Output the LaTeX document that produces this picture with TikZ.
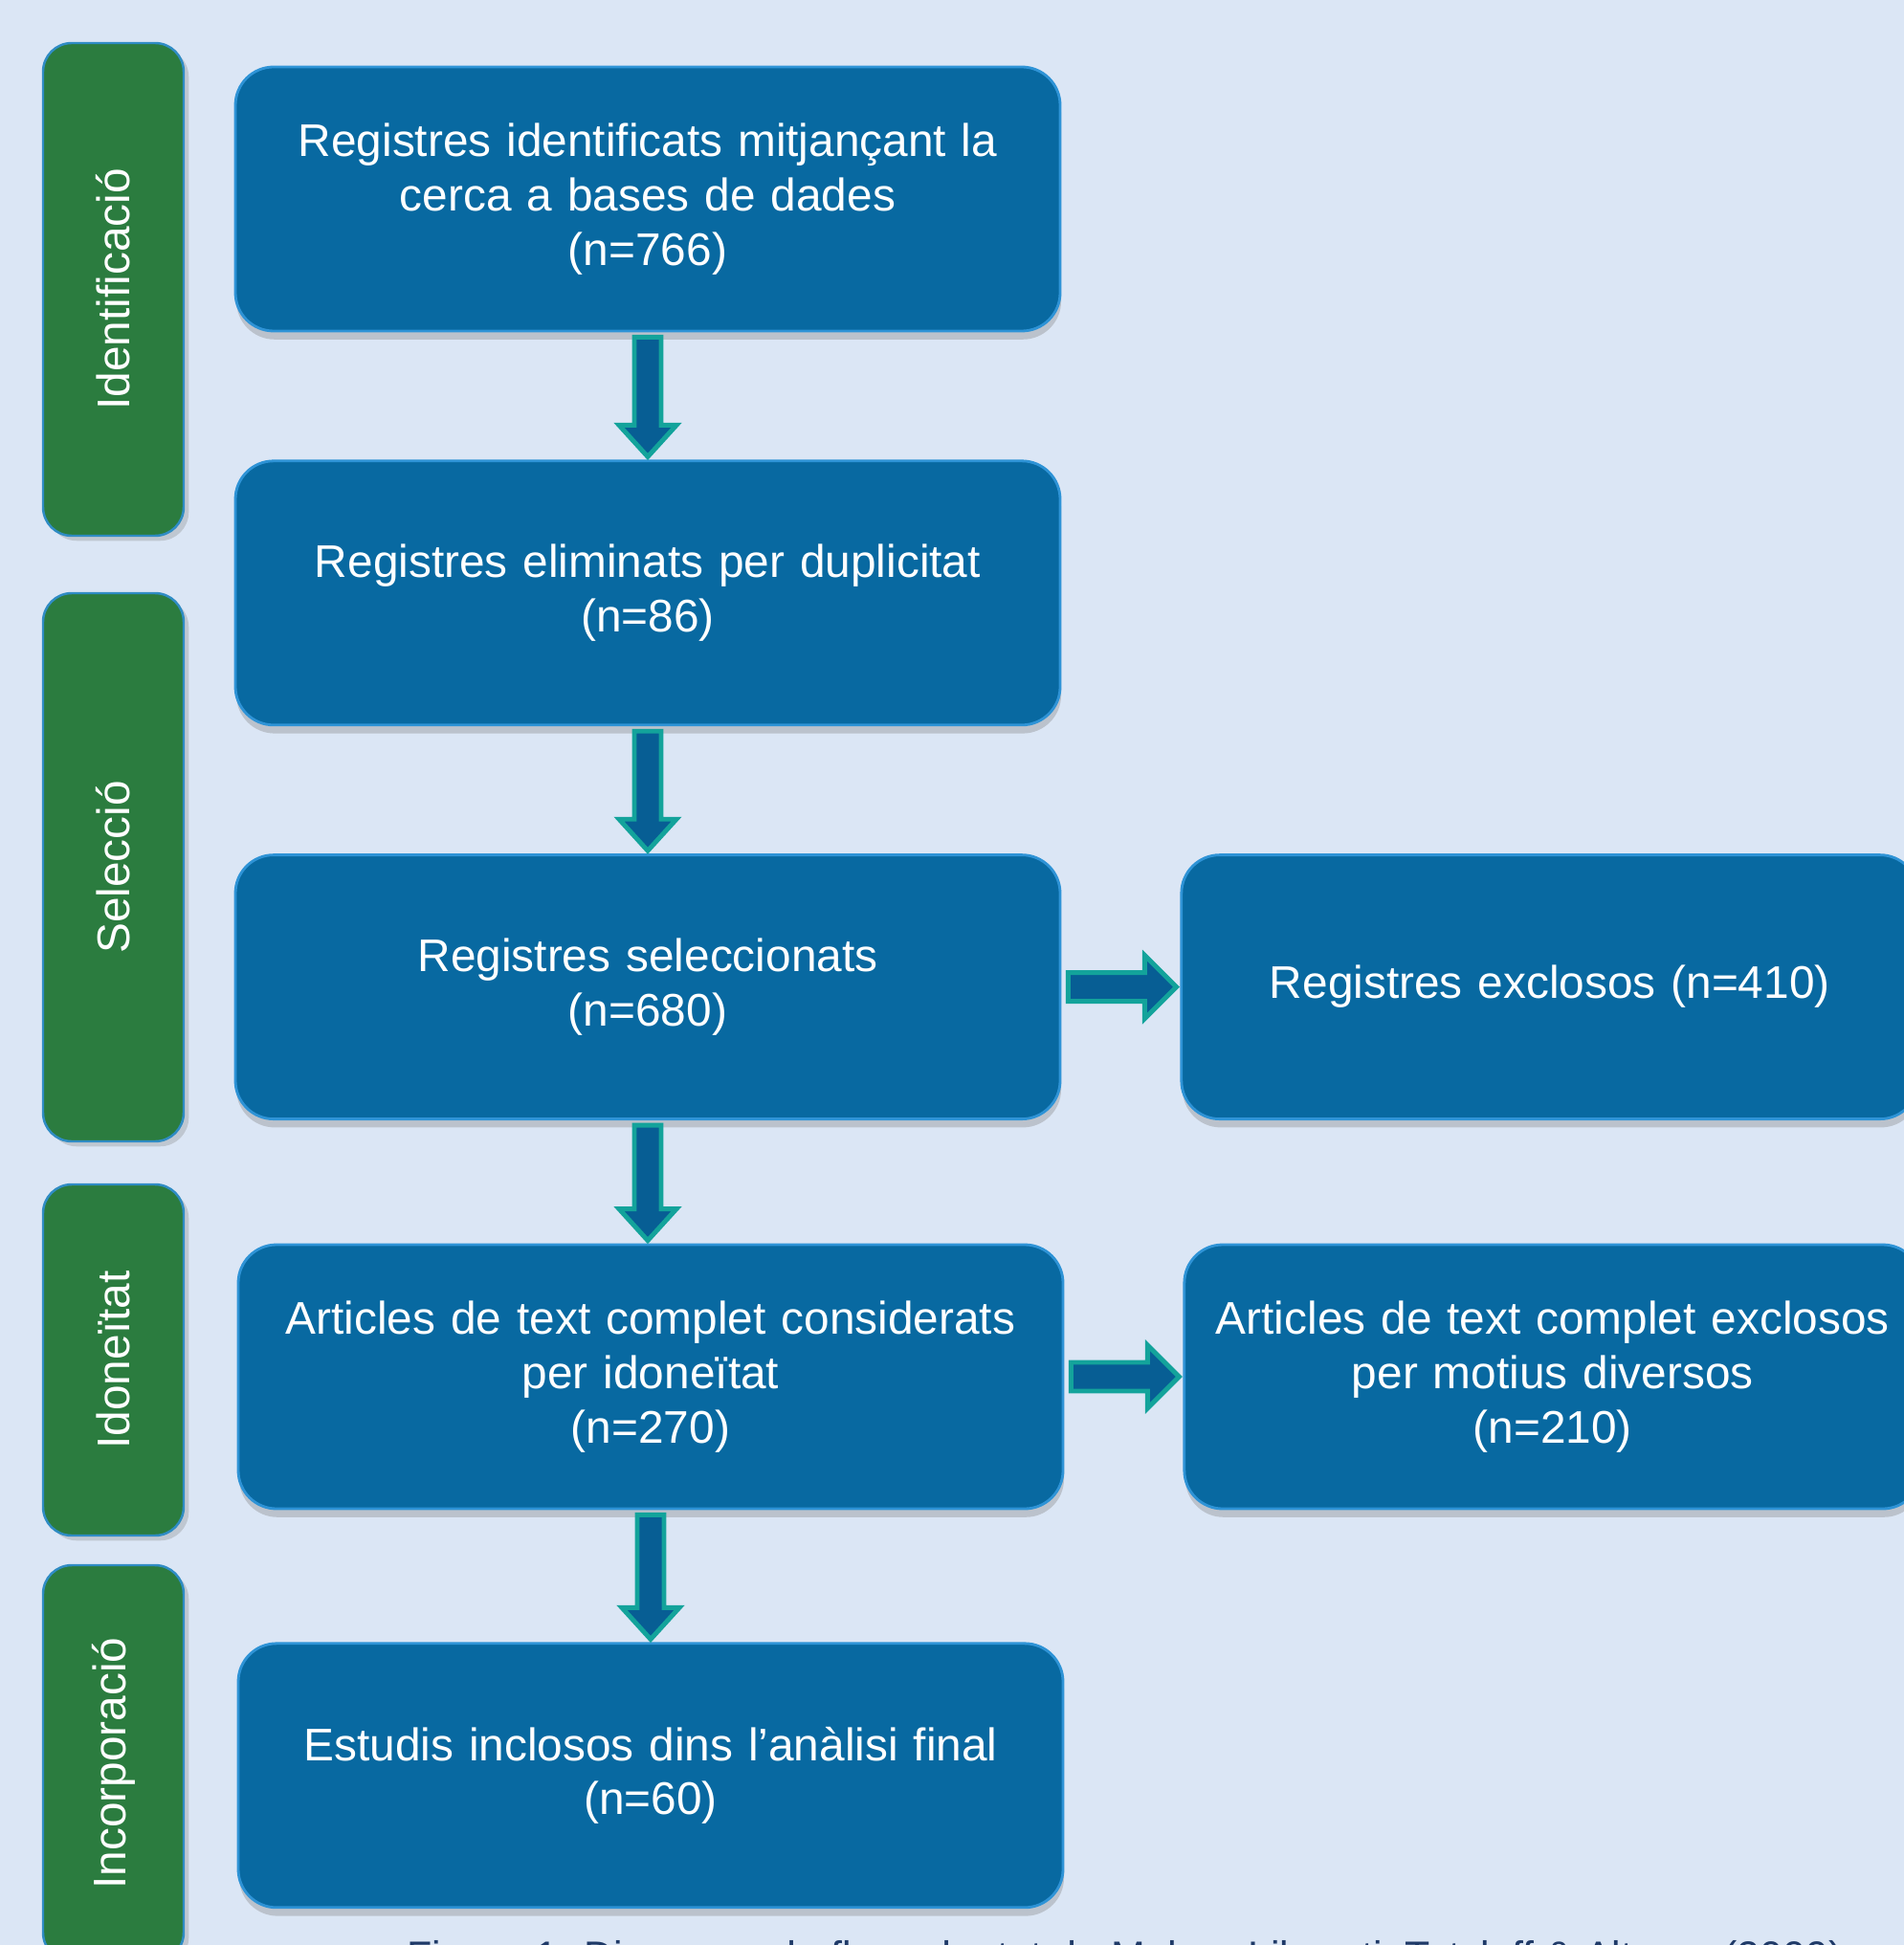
\documentclass[tikz,border=0pt]{standalone}
\usepackage{fontspec}
\setmainfont{Liberation Sans}
\usetikzlibrary{positioning,shadows,calc}
\definecolor{bgblue}{HTML}{DBE6F5}
\definecolor{boxblue}{HTML}{0869A1}
\definecolor{boxedge}{HTML}{2E93D6}
\definecolor{tabgreen}{HTML}{2B7C3F}
\definecolor{tabedge}{HTML}{2F8CC4}
\definecolor{arrowfill}{HTML}{075E94}
\definecolor{arrowedge}{HTML}{13A39B}
\definecolor{captionblue}{HTML}{1F3A68}
\tikzset{
  box/.style={draw=boxedge, line width=0.8pt, fill=boxblue, rounded corners=0.4cm,
    text=white, align=center, minimum height=2.76cm, minimum width=8.62cm,
    text width=8.3cm, font=\fontsize{13.6}{16.2}\selectfont,
    drop shadow={shadow xshift=0.3pt, shadow yshift=-2.5pt, opacity=0.35}},
  tab/.style={draw=tabedge, line width=0.7pt, fill=tabgreen, rounded corners=0.3cm,
    text=white, rotate=90, minimum height=1.47cm,
    font=\fontsize{13.6}{16.2}\selectfont,
    drop shadow={shadow xshift=1.5pt, shadow yshift=-1.5pt, opacity=0.3}},
  blockarrow/.style={fill=arrowfill, draw=arrowedge, line width=1.4pt, line join=miter}
}
% block arrows between boxes
\newcommand{\flowdown}[2]{%
  \draw[blockarrow] let \p1=(#1.south), \p2=(#2.north) in
    (\x1-0.14cm,\y1-0.05cm) -- (\x1+0.14cm,\y1-0.05cm) -- (\x1+0.14cm,\y2+0.36cm)
    -- (\x1+0.30cm,\y2+0.36cm) -- (\x1,\y2+0.03cm) -- (\x1-0.30cm,\y2+0.36cm)
    -- (\x1-0.14cm,\y2+0.36cm) -- cycle;}
\newcommand{\flowright}[2]{%
  \draw[blockarrow] let \p1=(#1.east), \p2=(#2.west) in
    (\x1+0.07cm,\y1-0.15cm) -- (\x1+0.07cm,\y1+0.15cm) -- (\x2-0.37cm,\y1+0.15cm)
    -- (\x2-0.37cm,\y1+0.33cm) -- (\x2-0.04cm,\y1) -- (\x2-0.37cm,\y1-0.33cm)
    -- (\x2-0.37cm,\y1-0.15cm) -- cycle;}

\begin{document}
\begin{tikzpicture}
  \useasboundingbox (0,0) rectangle (19.9,-20.33);
  \clip (0,0) rectangle (19.9,-20.33);
  \fill[bgblue] (0,0) rectangle (19.9,-20.33);

  % phases
  \node[tab, minimum width=5.15cm] (t1) at (1.185,-3.025) {Identificació};
  \node[tab, minimum width=5.73cm] (t2) at (1.185,-9.065) {Selecció};
  \node[tab, minimum width=3.67cm] (t3) at (1.185,-14.215) {Idoneïtat};
  \node[tab, minimum width=4.14cm] (t4) at (1.185,-18.43) {Incorporació};

  % main column
  \node[box] (b1) at (6.77,-2.08)
    {Registres identificats mitjançant la\\cerca a bases de dades\\(n=766)};
  \node[box] (b2) [below=1.33cm of b1]
    {Registres eliminats per duplicitat\\(n=86)};
  \node[box] (b3) [below=1.33cm of b2]
    {Registres seleccionats\\(n=680)};
  \node[box] (b4) at (6.80,-14.39)
    {Articles de text complet considerats\\per idoneïtat\\(n=270)};
  \node[box] (b5) [below=1.38cm of b4]
    {Estudis inclosos dins l’anàlisi final\\(n=60)};

  % exclusions
  \node[box, minimum width=7.7cm, text width=7.4cm] (r1) [right=1.24cm of b3]
    {Registres exclosos (n=410)};
  \node[box, minimum width=7.7cm, text width=7.4cm] (r2) [right=1.24cm of b4]
    {Articles de text complet exclosos\\per motius diversos\\(n=210)};

  \flowdown{b1}{b2}
  \flowdown{b2}{b3}
  \flowdown{b3}{b4}
  \flowdown{b4}{b5}
  \flowright{b3}{r1}
  \flowright{b4}{r2}

  \node[anchor=base west, inner sep=0pt, text=captionblue,
    font=\fontsize{12.2}{14}\selectfont] (cap) at (4.25,-20.59)
    {Figura 1. Diagrama de flux adaptat de Moher, Liberati, Tetzlaff \& Altman (2009)};
\end{tikzpicture}
\end{document}
